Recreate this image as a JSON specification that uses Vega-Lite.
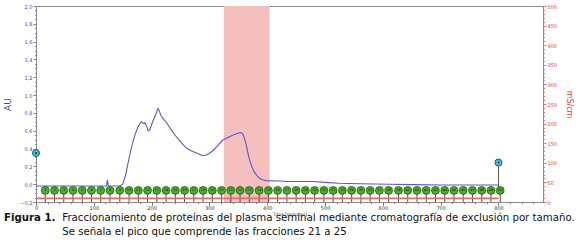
{
  "$schema": "https://vega.github.io/schema/vega-lite/v6.json",
  "width": 507,
  "height": 196,
  "autosize": "none",
  "padding": {"left": 36, "top": 6, "right": 37, "bottom": 43},
  "background": "white",
  "config": {
    "font": "DejaVu Sans",
    "view": {"stroke": "#8a8a8a", "strokeWidth": 1},
    "axis": {"grid": false, "domainColor": "#8a8a8a", "labelFont": "DejaVu Sans", "titleFont": "DejaVu Sans", "labelFontSize": 5, "labelPadding": 1, "tickWidth": 0.7, "labelOverlap": false, "labelFlush": false},
    "axisBottom": {"labelColor": "#333", "tickColor": "#333", "titleFontSize": 4.5, "titleFontWeight": "normal", "titleColor": "#333", "titlePadding": 1, "labelPadding": 0},
    "axisLeft": {"labelColor": "#3a4aa0", "tickColor": "#3a4aa0", "titleColor": "#3a4aa0", "titleFontSize": 9, "titleFontWeight": "normal", "titlePadding": 7},
    "axisRight": {"labelColor": "#e83a3a", "tickColor": "#e83a3a", "titleColor": "#e83a3a", "titleFontSize": 8, "titleFontWeight": "normal", "titlePadding": 8}
  },
  "title": {
    "text": "Figura 1.",
    "subtitle": ["\u200b\u00a0\u00a0\u00a0\u00a0\u00a0\u00a0\u00a0\u00a0\u00a0\u00a0\u00a0\u00a0\u00a0\u00a0\u00a0\u00a0\u00a0\u00a0Fraccionamiento de proteínas del plasma seminal mediante cromatografía de exclusión por tamaño.", "\u200b\u00a0\u00a0\u00a0\u00a0\u00a0\u00a0\u00a0\u00a0\u00a0\u00a0\u00a0\u00a0\u00a0\u00a0\u00a0\u00a0\u00a0\u00a0Se señala el pico que comprende las fracciones 21 a 25"],
    "orient": "bottom",
    "anchor": "start",
    "frame": "group",
    "dx": -32,
    "offset": -3,
    "font": "DejaVu Sans",
    "fontSize": 10.2,
    "fontWeight": "bold",
    "color": "#111",
    "subtitleFont": "DejaVu Sans",
    "subtitleFontSize": 10.2,
    "subtitleColor": "#111",
    "subtitleLineHeight": 14,
    "subtitlePadding": -10.2
  },
  "datasets": {
    "au": [
      {"t": 0, "au": -0.02}, {"t": 122, "au": -0.02}, {"t": 123.5, "au": 0.05}, {"t": 125, "au": -0.02},
      {"t": 145, "au": -0.02}, {"t": 150, "au": 0.0}, {"t": 155, "au": 0.1}, {"t": 158, "au": 0.2},
      {"t": 163, "au": 0.35}, {"t": 167, "au": 0.46}, {"t": 172, "au": 0.57}, {"t": 177, "au": 0.65},
      {"t": 181, "au": 0.69}, {"t": 183, "au": 0.7}, {"t": 186, "au": 0.68}, {"t": 188, "au": 0.69},
      {"t": 191, "au": 0.66}, {"t": 194, "au": 0.6}, {"t": 197, "au": 0.61}, {"t": 200, "au": 0.67},
      {"t": 203, "au": 0.72}, {"t": 207, "au": 0.78}, {"t": 211, "au": 0.85}, {"t": 213, "au": 0.83},
      {"t": 215, "au": 0.79}, {"t": 217, "au": 0.76}, {"t": 222, "au": 0.72}, {"t": 226, "au": 0.69},
      {"t": 234, "au": 0.61}, {"t": 243, "au": 0.53}, {"t": 252, "au": 0.46}, {"t": 261, "au": 0.4},
      {"t": 270, "au": 0.37}, {"t": 278, "au": 0.35}, {"t": 288, "au": 0.32}, {"t": 296, "au": 0.33},
      {"t": 305, "au": 0.37}, {"t": 314, "au": 0.43}, {"t": 322, "au": 0.49}, {"t": 331, "au": 0.52},
      {"t": 340, "au": 0.55}, {"t": 348, "au": 0.57}, {"t": 354, "au": 0.58}, {"t": 357, "au": 0.57},
      {"t": 360, "au": 0.53}, {"t": 364, "au": 0.43}, {"t": 368, "au": 0.31}, {"t": 372, "au": 0.22},
      {"t": 377, "au": 0.14}, {"t": 382, "au": 0.1}, {"t": 386, "au": 0.07}, {"t": 392, "au": 0.05},
      {"t": 398, "au": 0.04}, {"t": 420, "au": 0.035}, {"t": 438, "au": 0.03}, {"t": 478, "au": 0.03},
      {"t": 500, "au": 0.02}, {"t": 524, "au": 0.01}, {"t": 560, "au": 0.005}, {"t": 611, "au": 0.0},
      {"t": 650, "au": -0.005}, {"t": 700, "au": -0.01}, {"t": 800, "au": -0.01}
    ],
    "cond": [
      {"t": 0, "ms": 9}, {"t": 800, "ms": 9}
    ],
    "shade": [
      {"t": 325, "t2": 404}
    ],
    "inject": [
      {"t": 0, "au": 0.35},
      {"t": 800, "au": 0.243}
    ],
    "frac": [
      {"n": 1, "t": 16}, {"n": 2, "t": 32}, {"n": 3, "t": 48}, {"n": 4, "t": 64}, {"n": 5, "t": 80},
      {"n": 6, "t": 96}, {"n": 7, "t": 112}, {"n": 8, "t": 128}, {"n": 9, "t": 145}, {"n": 10, "t": 161},
      {"n": 11, "t": 177}, {"n": 12, "t": 193}, {"n": 13, "t": 209}, {"n": 14, "t": 225}, {"n": 15, "t": 241},
      {"n": 16, "t": 257}, {"n": 17, "t": 273}, {"n": 18, "t": 289}, {"n": 19, "t": 305}, {"n": 20, "t": 321},
      {"n": 21, "t": 337}, {"n": 22, "t": 353}, {"n": 23, "t": 369}, {"n": 24, "t": 386}, {"n": 25, "t": 402},
      {"n": 26, "t": 418}, {"n": 27, "t": 434}, {"n": 28, "t": 450}, {"n": 29, "t": 466}, {"n": 30, "t": 482},
      {"n": 31, "t": 498}, {"n": 32, "t": 514}, {"n": 33, "t": 530}, {"n": 34, "t": 546}, {"n": 35, "t": 562},
      {"n": 36, "t": 578}, {"n": 37, "t": 594}, {"n": 38, "t": 610}, {"n": 39, "t": 627}, {"n": 40, "t": 643},
      {"n": 41, "t": 659}, {"n": 42, "t": 675}, {"n": 43, "t": 691}, {"n": 44, "t": 707}, {"n": 45, "t": 723},
      {"n": 46, "t": 739}, {"n": 47, "t": 755}, {"n": 48, "t": 771}, {"n": 49, "t": 787}, {"n": 50, "t": 803}
    ]
  },
  "encoding": {
    "x": {"field": "t", "type": "quantitative", "scale": {"domain": [0, 877], "nice": false, "zero": false},
      "title": "Time [minutes]",
      "axis": {"orient": "bottom", "labelOverlap": false, "values": [0,20,40,60,80,100,120,140,160,180,200,220,240,260,280,300,320,340,360,380,400,420,440,460,480,500,520,540,560,580,600,620,640,660,680,700,720,740,760,780,800,820,840,860],
        "labelExpr": "datum.value % 100 === 0 ? datum.value : ''",
        "tickSize": {"condition": {"test": "datum.value % 100 === 0", "value": 3}, "value": 1.5}}}
  },
  "layer": [
    {
      "layer": [
        {
          "data": {"name": "shade"},
          "mark": {"type": "rect", "color": "#f5bfc0", "opacity": 1},
          "encoding": {
            "x2": {"field": "t2"},
            "y": {"datum": -0.2, "type": "quantitative", "title": "AU", "scale": {"domain": [-0.2, 2.0], "nice": false, "zero": false},
              "axis": {"orient": "left", "labelOverlap": false,
                "values": [-0.2,-0.15,-0.1,-0.05,0,0.05,0.1,0.15,0.2,0.25,0.3,0.35,0.4,0.45,0.5,0.55,0.6,0.65,0.7,0.75,0.8,0.85,0.9,0.95,1.0,1.05,1.1,1.15,1.2,1.25,1.3,1.35,1.4,1.45,1.5,1.55,1.6,1.65,1.7,1.75,1.8,1.85,1.9,1.95,2.0],
                "labelExpr": "abs(datum.value*5 - round(datum.value*5)) < 0.01 ? replace(format(datum.value, '.1f'), '.', ',') : ''",
                "tickSize": {"condition": {"test": "abs(datum.value*5 - round(datum.value*5)) < 0.01", "value": 3}, "value": 1.5}}},
            "y2": {"datum": 2.0}
          }
        },
        {
          "data": {"name": "au"},
          "mark": {"type": "line", "color": "#5a5abf", "strokeWidth": 1.1},
          "encoding": {
            "y": {"field": "au", "type": "quantitative", "title": "AU",
              "axis": {"orient": "left", "labelOverlap": false,
                "values": [-0.2,-0.15,-0.1,-0.05,0,0.05,0.1,0.15,0.2,0.25,0.3,0.35,0.4,0.45,0.5,0.55,0.6,0.65,0.7,0.75,0.8,0.85,0.9,0.95,1.0,1.05,1.1,1.15,1.2,1.25,1.3,1.35,1.4,1.45,1.5,1.55,1.6,1.65,1.7,1.75,1.8,1.85,1.9,1.95,2.0],
                "labelExpr": "abs(datum.value*5 - round(datum.value*5)) < 0.01 ? replace(format(datum.value, '.1f'), '.', ',') : ''",
                "tickSize": {"condition": {"test": "abs(datum.value*5 - round(datum.value*5)) < 0.01", "value": 3}, "value": 1.5}}}
          }
        },
        {
          "data": {"name": "frac"},
          "mark": {"type": "rule", "color": "#222", "strokeWidth": 0.8},
          "encoding": {
            "y": {"datum": -0.07, "type": "quantitative", "title": "AU",
              "axis": {"orient": "left", "labelOverlap": false,
                "values": [-0.2,-0.15,-0.1,-0.05,0,0.05,0.1,0.15,0.2,0.25,0.3,0.35,0.4,0.45,0.5,0.55,0.6,0.65,0.7,0.75,0.8,0.85,0.9,0.95,1.0,1.05,1.1,1.15,1.2,1.25,1.3,1.35,1.4,1.45,1.5,1.55,1.6,1.65,1.7,1.75,1.8,1.85,1.9,1.95,2.0],
                "labelExpr": "abs(datum.value*5 - round(datum.value*5)) < 0.01 ? replace(format(datum.value, '.1f'), '.', ',') : ''",
                "tickSize": {"condition": {"test": "abs(datum.value*5 - round(datum.value*5)) < 0.01", "value": 3}, "value": 1.5}}},
            "y2": {"datum": -0.2}
          }
        },
        {
          "data": {"name": "inject"},
          "transform": [{"filter": "datum.t > 0"}],
          "mark": {"type": "rule", "color": "#555", "strokeWidth": 1},
          "encoding": {
            "y": {"field": "au", "type": "quantitative", "title": "AU",
              "axis": {"orient": "left", "labelOverlap": false,
                "values": [-0.2,-0.15,-0.1,-0.05,0,0.05,0.1,0.15,0.2,0.25,0.3,0.35,0.4,0.45,0.5,0.55,0.6,0.65,0.7,0.75,0.8,0.85,0.9,0.95,1.0,1.05,1.1,1.15,1.2,1.25,1.3,1.35,1.4,1.45,1.5,1.55,1.6,1.65,1.7,1.75,1.8,1.85,1.9,1.95,2.0],
                "labelExpr": "abs(datum.value*5 - round(datum.value*5)) < 0.01 ? replace(format(datum.value, '.1f'), '.', ',') : ''",
                "tickSize": {"condition": {"test": "abs(datum.value*5 - round(datum.value*5)) < 0.01", "value": 3}, "value": 1.5}}},
            "y2": {"datum": -0.07}
          }
        },
        {
          "data": {"name": "frac"},
          "mark": {"type": "point", "shape": "circle", "filled": true, "size": 62, "color": "#4caf2a", "stroke": "#1e5a10", "strokeWidth": 0.8, "opacity": 1},
          "encoding": {
            "y": {"datum": -0.07, "type": "quantitative", "title": "AU",
              "axis": {"orient": "left", "labelOverlap": false,
                "values": [-0.2,-0.15,-0.1,-0.05,0,0.05,0.1,0.15,0.2,0.25,0.3,0.35,0.4,0.45,0.5,0.55,0.6,0.65,0.7,0.75,0.8,0.85,0.9,0.95,1.0,1.05,1.1,1.15,1.2,1.25,1.3,1.35,1.4,1.45,1.5,1.55,1.6,1.65,1.7,1.75,1.8,1.85,1.9,1.95,2.0],
                "labelExpr": "abs(datum.value*5 - round(datum.value*5)) < 0.01 ? replace(format(datum.value, '.1f'), '.', ',') : ''",
                "tickSize": {"condition": {"test": "abs(datum.value*5 - round(datum.value*5)) < 0.01", "value": 3}, "value": 1.5}}}
          }
        },
        {
          "data": {"name": "frac"},
          "mark": {"type": "text", "fontSize": 3.5, "color": "#111", "baseline": "middle", "align": "center"},
          "encoding": {
            "y": {"datum": -0.07, "type": "quantitative", "title": "AU",
              "axis": {"orient": "left", "labelOverlap": false,
                "values": [-0.2,-0.15,-0.1,-0.05,0,0.05,0.1,0.15,0.2,0.25,0.3,0.35,0.4,0.45,0.5,0.55,0.6,0.65,0.7,0.75,0.8,0.85,0.9,0.95,1.0,1.05,1.1,1.15,1.2,1.25,1.3,1.35,1.4,1.45,1.5,1.55,1.6,1.65,1.7,1.75,1.8,1.85,1.9,1.95,2.0],
                "labelExpr": "abs(datum.value*5 - round(datum.value*5)) < 0.01 ? replace(format(datum.value, '.1f'), '.', ',') : ''",
                "tickSize": {"condition": {"test": "abs(datum.value*5 - round(datum.value*5)) < 0.01", "value": 3}, "value": 1.5}}},
            "text": {"field": "n"}
          }
        },
        {
          "data": {"name": "inject"},
          "mark": {"type": "point", "shape": "circle", "filled": true, "size": 50, "color": "#44c4d6", "stroke": "#1d5c70", "strokeWidth": 1, "opacity": 1},
          "encoding": {
            "y": {"field": "au", "type": "quantitative", "title": "AU",
              "axis": {"orient": "left", "labelOverlap": false,
                "values": [-0.2,-0.15,-0.1,-0.05,0,0.05,0.1,0.15,0.2,0.25,0.3,0.35,0.4,0.45,0.5,0.55,0.6,0.65,0.7,0.75,0.8,0.85,0.9,0.95,1.0,1.05,1.1,1.15,1.2,1.25,1.3,1.35,1.4,1.45,1.5,1.55,1.6,1.65,1.7,1.75,1.8,1.85,1.9,1.95,2.0],
                "labelExpr": "abs(datum.value*5 - round(datum.value*5)) < 0.01 ? replace(format(datum.value, '.1f'), '.', ',') : ''",
                "tickSize": {"condition": {"test": "abs(datum.value*5 - round(datum.value*5)) < 0.01", "value": 3}, "value": 1.5}}}
          }
        },
        {
          "data": {"name": "inject"},
          "mark": {"type": "point", "shape": "circle", "filled": true, "size": 4, "color": "#113", "opacity": 1},
          "encoding": {
            "y": {"field": "au", "type": "quantitative", "title": "AU",
              "axis": {"orient": "left", "labelOverlap": false,
                "values": [-0.2,-0.15,-0.1,-0.05,0,0.05,0.1,0.15,0.2,0.25,0.3,0.35,0.4,0.45,0.5,0.55,0.6,0.65,0.7,0.75,0.8,0.85,0.9,0.95,1.0,1.05,1.1,1.15,1.2,1.25,1.3,1.35,1.4,1.45,1.5,1.55,1.6,1.65,1.7,1.75,1.8,1.85,1.9,1.95,2.0],
                "labelExpr": "abs(datum.value*5 - round(datum.value*5)) < 0.01 ? replace(format(datum.value, '.1f'), '.', ',') : ''",
                "tickSize": {"condition": {"test": "abs(datum.value*5 - round(datum.value*5)) < 0.01", "value": 3}, "value": 1.5}}}
          }
        }
      ]
    },
    {
      "data": {"name": "cond"},
      "mark": {"type": "line", "color": "#e86a6a", "strokeWidth": 1.8},
      "encoding": {
        "y": {"field": "ms", "type": "quantitative", "scale": {"domain": [0, 500], "nice": false, "zero": false},
          "title": "mS/cm",
          "axis": {"orient": "right", "domain": false, "labelOverlap": false,
            "values": [0,10,20,30,40,50,60,70,80,90,100,110,120,130,140,150,160,170,180,190,200,210,220,230,240,250,260,270,280,290,300,310,320,330,340,350,360,370,380,390,400,410,420,430,440,450,460,470,480,490,500],
            "labelExpr": "datum.value % 50 === 0 ? datum.value : ''",
            "tickSize": {"condition": {"test": "datum.value % 50 === 0", "value": 3}, "value": 1.5}}}
      }
    }
  ],
  "resolve": {"scale": {"y": "independent"}}
}
